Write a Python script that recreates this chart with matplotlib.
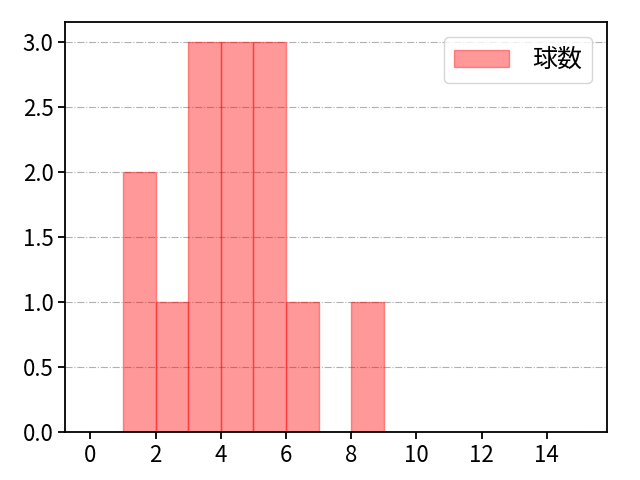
import matplotlib
matplotlib.use("Agg")
import matplotlib.pyplot as plt

plt.rcParams['font.family'] = ['Noto Sans CJK JP', 'DejaVu Sans']
plt.rcParams['axes.linewidth'] = 1.3

# 球数ごとの回数（ヒストグラム用の生データ）
pitch_counts = [1, 1, 2, 3, 3, 3, 4, 4, 4, 5, 5, 5, 6, 8]
bin_edges = list(range(0, 16))
xticks = [0, 2, 4, 6, 8, 10, 12, 14]

fig = plt.figure(figsize=(6.4, 4.8), dpi=100)
ax = fig.add_axes([0.102, 0.1, 0.846, 0.854])

ax.hist(pitch_counts, bins=bin_edges, color='red', alpha=0.4,
        edgecolor='red', linewidth=1, label='球数')
ax.grid(axis='y', linestyle='-.', color='#b0b0b0', linewidth=0.8)
ax.set_axisbelow(True)

ax.set_xlim(-0.77, 15.84)
ax.set_ylim(0, 3.15)
ax.set_xticks(xticks)
ax.set_yticks([0, 0.5, 1.0, 1.5, 2.0, 2.5, 3.0])
ax.set_yticklabels(['0.0', '0.5', '1.0', '1.5', '2.0', '2.5', '3.0'])
ax.tick_params(labelsize=16, width=1.3, length=5)

ax.legend(loc='upper right', fontsize=18, handlelength=2.2,
          handletextpad=0.9, borderaxespad=0.6)

fig.savefig('out.png', dpi=100)
